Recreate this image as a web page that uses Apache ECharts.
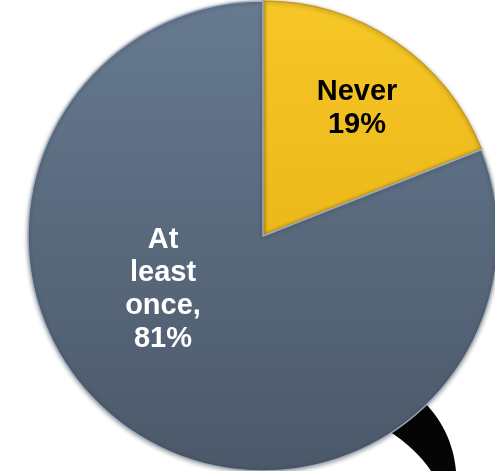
<!DOCTYPE html>
<html>
<head>
<meta charset="utf-8">
<script src="https://cdn.jsdelivr.net/npm/echarts@6/dist/echarts.min.js"></script>
<style>
  html, body { margin: 0; padding: 0; background: #fff; }
  #chart { width: 495px; height: 471px; }
</style>
</head>
<body>
<div id="chart"></div>
<script>
// 数据
var categories = ["Never", "At least once"];
var values = [19, 81];
var labelTexts = ["Never\n19%", "At\nleast\nonce,\n81%"];

var chart = echarts.init(document.getElementById("chart"));

// 渐变色
function vGradient(top, bottom) {
  return {
    type: "linear",
    x: 0, y: 0, x2: 0, y2: 1,
    colorStops: [
      { offset: 0, color: top },
      { offset: 1, color: bottom }
    ]
  };
}

// 二次贝塞尔取点（装饰用尾巴形状）
function quad(p0, c, p1, n) {
  var pts = [];
  for (var i = 0; i <= n; i++) {
    var t = i / n, u = 1 - t;
    pts.push([
      u * u * p0[0] + 2 * u * t * c[0] + t * t * p1[0],
      u * u * p0[1] + 2 * u * t * c[1] + t * t * p1[1]
    ]);
  }
  return pts;
}
var tailPoints = quad([420, 398], [452, 428], [456, 471], 16)
  .concat(quad([431, 471], [415, 447], [384, 428], 16));

// 扇区颜色（带一点渐变，模拟立体效果）
var colorList = [vGradient("#f6c726", "#ecb81a"), vGradient("#677a90", "#4b5869")];
var borderColors = ["rgba(200,150,20,0.9)", "rgba(165,180,198,0.9)"];
var labelColors = ["#000", "#fff"];
// 标签中心位置
var labelPos = [[357, 108], [163, 289]];

var option = {
  backgroundColor: "#fff",
  animation: false,
  graphic: [
    {
      // 右下角黑色尾巴
      type: "polygon",
      z: -1,
      shape: { points: tailPoints },
      style: { fill: "#050505" }
    }
  ],
  series: [
    {
      type: "pie",
      center: [263, 236],
      radius: [0, 235],
      startAngle: 90,
      clockwise: true,
      silent: true,
      itemStyle: {
        borderWidth: 1.5,
        shadowBlur: 4,
        shadowColor: "rgba(0,0,0,0.35)",
        shadowOffsetY: 1
      },
      label: {
        show: true,
        position: "inside",
        fontFamily: "Liberation Sans, Arial, sans-serif",
        fontWeight: "bold",
        fontSize: 29,
        lineHeight: 33,
        align: "center",
        formatter: function (p) {
          return labelTexts[p.dataIndex];
        }
      },
      labelLine: { show: false },
      labelLayout: function (p) {
        return {
          x: labelPos[p.dataIndex][0],
          y: labelPos[p.dataIndex][1],
          align: "center",
          verticalAlign: "middle"
        };
      },
      data: categories.map(function (name, i) {
        return {
          name: name,
          value: values[i],
          itemStyle: { color: colorList[i], borderColor: borderColors[i] },
          label: { color: labelColors[i] }
        };
      })
    }
  ]
};

chart.setOption(option);
</script>
</body>
</html>
